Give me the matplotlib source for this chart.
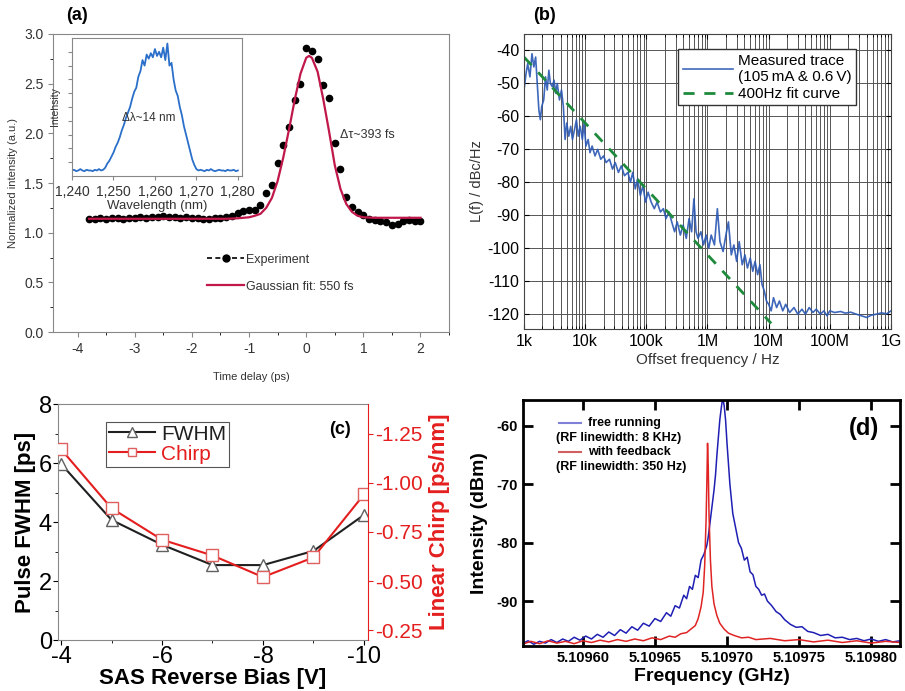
import numpy as np
import matplotlib
matplotlib.use('Agg')
import matplotlib.pyplot as plt
from matplotlib.ticker import MultipleLocator, FormatStrFormatter, NullFormatter
from matplotlib.lines import Line2D

plt.rcParams['font.family'] = ['Liberation Sans', 'DejaVu Sans']
plt.rcParams['axes.unicode_minus'] = False

# ---------------- data ----------------
# (a) autocorrelation
a_delay = np.round(np.arange(-3.8, 2.01, 0.1), 2)
a_exp = [1.14, 1.14, 1.15, 1.14, 1.15, 1.15, 1.14, 1.15, 1.15, 1.16, 1.15, 1.16, 1.16,
         1.17, 1.16, 1.16, 1.15, 1.16, 1.15, 1.15, 1.14, 1.14, 1.15, 1.15, 1.16, 1.17,
         1.20, 1.22, 1.23, 1.23, 1.28, 1.40, 1.48, 1.70, 1.88, 2.06, 2.34, 2.50, 2.86,
         2.83, 2.75, 2.49, 2.36, 1.90, 1.64, 1.36, 1.26, 1.21, 1.18, 1.14, 1.13, 1.12,
         1.11, 1.08, 1.09, 1.12, 1.13, 1.12, 1.12]
fit_delay = [-3.8, -1.4, -1.2, -1.0, -0.9, -0.8, -0.7, -0.6, -0.5, -0.4, -0.3, -0.2, -0.1,
             0.0, 0.05, 0.1, 0.2, 0.3, 0.4, 0.5, 0.6, 0.7, 0.8, 0.9, 1.0, 1.2, 1.4, 2.0]
fit_val = [1.14, 1.14, 1.145, 1.155, 1.17, 1.19, 1.25, 1.35, 1.52, 1.76, 2.04, 2.34, 2.60,
           2.76, 2.78, 2.76, 2.62, 2.34, 2.02, 1.68, 1.44, 1.29, 1.21, 1.17, 1.155, 1.15,
           1.15, 1.15]

# (a) inset spectrum
spec_wl = np.arange(1240, 1280.01, 0.5)
spec_int = [0.04, 0.045, 0.035, 0.04, 0.05, 0.04, 0.035, 0.045, 0.04, 0.04, 0.035, 0.045,
            0.04, 0.05, 0.04, 0.045,
            0.06, 0.09, 0.11, 0.14, 0.17, 0.21, 0.24, 0.28, 0.33, 0.37, 0.42, 0.46, 0.50,
            0.56, 0.61, 0.64, 0.72, 0.76, 0.84, 0.80, 0.88, 0.85, 0.89, 0.86, 0.92, 0.87,
            0.90, 0.86, 0.93, 0.84, 0.96, 0.80, 0.82, 0.70, 0.62, 0.58, 0.50, 0.44, 0.36,
            0.30, 0.24, 0.18, 0.12, 0.08, 0.05,
            0.04, 0.045, 0.04, 0.035, 0.045, 0.04, 0.05, 0.04, 0.035, 0.04, 0.045, 0.04,
            0.04, 0.035, 0.045, 0.04, 0.04, 0.045, 0.035, 0.04]

# (b) phase noise
b_freq = [1.0e3, 1.08e3, 1.15e3, 1.25e3, 1.35e3, 1.45e3, 1.55e3, 1.65e3, 1.75e3, 1.85e3,
          1.95e3, 2.1e3, 2.25e3, 2.4e3, 2.55e3, 2.7e3, 2.9e3, 3.1e3, 3.3e3, 3.5e3, 3.8e3,
          4.1e3, 4.4e3, 4.7e3, 5.0e3, 5.4e3, 5.8e3, 6.2e3, 6.7e3, 7.2e3, 7.7e3, 8.3e3,
          9.0e3, 9.6e3, 1.03e4, 1.12e4, 1.2e4, 1.3e4, 1.45e4, 1.6e4, 1.8e4, 2.0e4, 2.2e4,
          2.5e4, 2.8e4, 3.1e4, 3.5e4, 3.9e4, 4.4e4, 5.0e4, 5.5e4, 6.0e4, 6.6e4, 7.2e4,
          8.0e4, 8.8e4, 9.7e4, 1.07e5, 1.2e5, 1.35e5, 1.5e5, 1.7e5, 1.9e5, 2.1e5, 2.35e5,
          2.6e5, 2.9e5, 3.2e5, 3.6e5, 4.0e5, 4.5e5, 5.0e5, 5.5e5, 6.0e5, 6.5e5, 7.0e5,
          7.8e5, 8.6e5, 9.5e5, 1.05e6, 1.15e6, 1.3e6, 1.45e6, 1.6e6, 1.8e6, 2.0e6, 2.2e6,
          2.45e6, 2.7e6, 3.0e6, 3.3e6, 3.7e6, 4.1e6, 4.5e6, 5.0e6, 5.5e6, 6.0e6, 6.6e6,
          7.2e6, 7.8e6, 8.5e6, 9.2e6, 1.0e7, 1.1e7, 1.2e7, 1.35e7, 1.5e7, 1.7e7, 1.9e7,
          2.2e7, 2.6e7, 3.0e7, 3.5e7, 4.0e7, 4.6e7, 5.3e7, 6.0e7, 7.0e7, 8.0e7, 9.0e7,
          1.0e8, 1.2e8, 1.5e8, 1.8e8, 2.2e8, 2.7e8, 3.3e8, 4.0e8, 4.8e8, 5.8e8, 7.0e8,
          8.5e8, 1.0e9]
b_level = [-52, -47, -44, -48, -41, -45, -42, -50, -58, -61,
           -57, -55, -48, -52, -46, -50, -51, -49, -53, -50, -55,
           -52, -57, -67, -62, -66, -63, -67, -64, -61, -66, -63,
           -67, -62, -69, -67, -71, -69, -72, -70, -73, -72, -74,
           -73, -76, -74, -77, -75, -78, -77, -80, -77, -82, -79,
           -84, -81, -86, -83, -86, -88, -86, -89, -88, -91, -89,
           -92, -95, -92, -96, -93, -97, -91, -95, -85, -95, -97,
           -95, -99, -96, -100, -96, -99, -88, -98, -101, -96, -92,
           -102, -99, -104, -98, -105, -102, -106, -103, -107, -104, -108,
           -105, -111, -113, -116, -117, -119, -115, -118, -116, -119, -117,
           -119.5, -118, -120, -118.5, -120, -118, -119.5, -118.5, -120, -119, -120.5,
           -119, -119.5, -119.2, -119.7, -119.4, -120.0, -120.5, -121, -120.3, -120, -119.6,
           -119.9, -119]
fit_freq = [1e3, 1.1e7]
fit_level = [-42, -122.8]

# (c) pulse width and chirp vs bias
c_bias = [-4, -5, -6, -7, -8, -9, -10]
c_fwhm = [5.97, 4.07, 3.23, 2.54, 2.54, 3.02, 4.24]
c_chirp = [-1.17, -0.87, -0.71, -0.63, -0.52, -0.62, -0.94]

# (d) RF spectra, offsets in kHz from 5.1096 GHz
F0 = 5.1096
blue_df = [-42, -38, -34, -30, -26, -22, -18, -14, -10, -6, -2, 2, 6, 10, 14, 18, 22, 26,
           30, 34, 38, 42, 46, 50, 54, 58, 61, 64, 67, 70, 72, 74, 76, 78, 80, 82, 84, 86,
           87, 88, 89, 90, 91, 92, 93, 94, 95, 96, 97, 98, 99, 100, 101, 102, 103, 104,
           106, 108, 110, 112, 114, 116, 118, 120, 122, 124, 126, 128, 131, 134, 137, 140,
           144, 148, 152, 156, 160, 165, 170, 175, 180, 185, 190, 195, 200, 205, 210, 215,
           220]
blue_db = [-97.3, -96.8, -97.4, -96.9, -97.2, -96.6, -97.1, -96.5, -96.9, -96.2, -96.7,
           -96.0, -96.5, -95.7, -96.2, -95.3, -95.9, -94.9, -95.5, -94.4, -95.0, -93.8,
           -94.3, -93.0, -93.5, -92.0, -92.6, -90.8, -91.2, -89.0, -89.6, -87.5, -88.0,
           -85.6, -86.0, -83.0, -82.0, -80.5, -79.0, -77.0, -75.0, -73.0, -71.0, -68.5,
           -65.0, -62.0, -59.0, -57.0, -55.2, -56.5, -59.0, -63.0, -66.5, -70.0, -72.5,
           -75.0, -77.5, -80.0, -81.0, -83.0, -82.5, -85.0, -85.5, -87.5, -88.0, -89.0,
           -88.8, -90.0, -90.8, -91.8, -92.3, -93.2, -94.0, -94.5, -94.4, -95.2, -95.4,
           -95.9, -95.7, -96.3, -96.2, -96.6, -96.4, -96.8, -96.5, -96.9, -96.6, -97.0,
           -96.8]
red_df = [-42, -36, -30, -24, -18, -12, -6, 0, 6, 12, 18, 24, 30, 36, 42, 48, 54, 60, 64,
          68, 72, 75, 78, 80, 82, 83.5, 84.5, 85.5, 86, 86.5, 87, 87.5, 88.5, 89.5, 91, 93,
          95, 98, 101, 105, 110, 115, 120, 130, 140, 150, 160, 170, 180, 190, 200, 210, 220]
red_db = [-97.4, -96.9, -97.3, -96.8, -97.2, -96.9, -97.3, -96.8, -97.1, -96.7, -97.0,
          -96.6, -96.9, -96.5, -96.8, -96.3, -96.6, -96.0, -96.2, -95.6, -95.4, -94.8,
          -94.2, -93.0, -91.0, -88.5, -84.0, -76.0, -70.0, -63.0, -67.0, -75.0, -83.0,
          -87.5, -90.5, -92.5, -93.8, -94.8, -95.5, -95.9, -96.3, -96.2, -96.6, -96.4,
          -96.8, -96.6, -97.0, -96.7, -97.1, -96.8, -97.2, -96.9, -97.1]


def main():
    fig = plt.figure(figsize=(9.05, 6.91), dpi=100)

    # ---------------- (a) ----------------
    narrow = ['Liberation Sans Narrow', 'Liberation Sans', 'DejaVu Sans']
    gcol = '#333333'
    ax = fig.add_axes([0.0586, 0.5195, 0.4376, 0.4313])
    ax.plot(a_delay, a_exp, 'o', color='black', ms=4.5, zorder=3)
    ax.plot(fit_delay, fit_val, color='#c0184a', lw=1.6, zorder=4)
    ax.set_xlim(-4.43, 2.5)
    ax.set_ylim(0, 3.0)
    ax.xaxis.set_major_locator(MultipleLocator(1))
    ax.xaxis.set_minor_locator(MultipleLocator(0.5))
    ax.yaxis.set_major_locator(MultipleLocator(0.5))
    ax.yaxis.set_minor_locator(MultipleLocator(0.25))
    ax.yaxis.set_major_formatter(FormatStrFormatter('%.1f'))
    for s in ax.spines.values():
        s.set_color('#888888')
    ax.tick_params(colors='#888888', labelcolor=gcol, labelsize=10)
    for lab in ax.get_xticklabels() + ax.get_yticklabels():
        lab.set_family(narrow)
    ax.set_xlabel('Time delay (ps)', fontsize=8, color=gcol, family=narrow, labelpad=12)
    ax.set_ylabel('Normalized intensity (a.u.)', fontsize=8, color=gcol, family=narrow)
    ax.text(0.725, 0.65, '\u0394\u03c4~393 fs', transform=ax.transAxes, fontsize=9,
            color=gcol, family=narrow)
    h1 = Line2D([], [], color='black', ls='--', marker='o', ms=5, lw=1.2, dashes=(3, 2))
    h2 = Line2D([], [], color='#c0184a', lw=1.6)
    leg = ax.legend([h1, h2], ['Experiment', 'Gaussian fit: 550 fs'], loc='upper left',
                    bbox_to_anchor=(0.36, 0.30), frameon=False,
                    handlelength=3.0, handletextpad=0.1, labelspacing=1.2,
                    prop={'family': narrow, 'size': 9})
    for t in leg.get_texts():
        t.set_color(gcol)
    fig.text(0.085, 0.977, '(a)', fontsize=13, fontweight='bold', ha='center', va='center')

    # inset
    ai = fig.add_axes([0.0796, 0.7453, 0.1878, 0.1997])
    ai.plot(spec_wl, spec_int, color='#2a6fc9', lw=1.3)
    ai.set_xlim(1240, 1281)
    ai.set_ylim(0, 1.0)
    ai.set_xticks([1240, 1250, 1260, 1270, 1280])
    ai.set_xticklabels(['1,240', '1,250', '1,260', '1,270', '1,280'])
    ai.set_yticks(np.arange(0.1, 0.95, 0.1))
    ai.yaxis.set_major_formatter(NullFormatter())
    for s in ai.spines.values():
        s.set_color('#888888')
    ai.tick_params(colors='#888888', labelcolor=gcol, labelsize=10, length=3)
    for lab in ai.get_xticklabels():
        lab.set_family(narrow)
    ai.set_xlabel('Wavelength (nm)', fontsize=9.5, color=gcol, family=narrow, labelpad=1)
    ai.set_ylabel('Intensity', fontsize=7.5, color=gcol, family=narrow, labelpad=2)
    ai.text(1258.5, 0.42, '\u0394\u03bb~14 nm', fontsize=8.5, color=gcol, family=narrow,
            ha='center', va='center')

    # ---------------- (b) ----------------
    bx = fig.add_axes([0.579, 0.5239, 0.4055, 0.4269])
    bx.semilogx(b_freq, b_level, color='#2a58b4', lw=1.2, alpha=0.9,
                label='Measured trace\n(105\u2009mA & 0.6\u2009V)')
    bx.semilogx(fit_freq, fit_level, color='#1e8a3c', lw=2, ls='--', dashes=(4, 3.5),
                label='400Hz fit curve')
    bx.set_xlim(1e3, 1e9)
    bx.set_ylim(-124.5, -35)
    bx.set_yticks(np.arange(-120, -39, 10))
    bx.set_xticks([1e3, 1e4, 1e5, 1e6, 1e7, 1e8, 1e9])
    bx.set_xticklabels(['1k', '10k', '100k', '1M', '10M', '100M', '1G'])
    bx.grid(True, which='major', color='#555555', lw=0.7)
    bx.grid(True, which='minor', axis='x', color='#555555', lw=0.7)
    bx.tick_params(which='both', direction='in', labelsize=11.5, top=True, right=True)
    for s in bx.spines.values():
        s.set_color('#444444')
    bx.set_xlabel('Offset frequency / Hz', fontsize=11, color='#333333', labelpad=3)
    bx.set_ylabel('L(f) / dBc/Hz', fontsize=10.5, color='#333333', labelpad=2)
    lb = bx.legend(loc='upper right', bbox_to_anchor=(0.925, 0.975), fontsize=11,
                   fancybox=False, framealpha=1, edgecolor='#333333', borderpad=0.3,
                   handlelength=3.3, handletextpad=0.3, labelspacing=0.2)
    lb.get_frame().set_linewidth(1.0)
    fig.text(0.602, 0.977, '(b)', fontsize=13, fontweight='bold', ha='center', va='center')

    # ---------------- (c) ----------------
    cx = fig.add_axes([0.0641, 0.0738, 0.3425, 0.3415])
    l1, = cx.plot(c_bias, c_fwhm, color='#202020', lw=1.5, marker='^', ms=9,
                  mfc='white', mec='#606060', mew=1.0)
    cx.set_xlim(-3.94, -10.08)
    cx.set_ylim(0, 8)
    cx.set_xticks([-4, -6, -8, -10])
    cx.xaxis.set_minor_locator(MultipleLocator(1))
    cx.yaxis.set_major_locator(MultipleLocator(2))
    cx.yaxis.set_minor_locator(MultipleLocator(1))
    cx.tick_params(labelsize=17, pad=1)
    cx.tick_params(which='minor', length=2.5)
    for s in cx.spines.values():
        s.set_color('#888888')
    cx.spines['right'].set_visible(False)
    cx.set_xlabel('SAS Reverse Bias [V]', fontsize=16, fontweight='bold', labelpad=0)
    cx.set_ylabel('Pulse FWHM [ps]', fontsize=16, fontweight='bold', labelpad=2)
    cr = cx.twinx()
    l2, = cr.plot(c_bias, c_chirp, color='#e41e1e', lw=1.5, marker='s', ms=8,
                  mfc='white', mec='#e06060', mew=1.0)
    cr.set_ylim(-0.20, -1.40)
    cr.set_yticks([-1.25, -1.0, -0.75, -0.5, -0.25])
    cr.yaxis.set_major_formatter(FormatStrFormatter('%.2f'))
    cr.tick_params(axis='y', colors='#e41e1e', labelsize=15, pad=2)
    for k in ['left', 'top', 'bottom']:
        cr.spines[k].set_visible(False)
    cr.spines['right'].set_color('#e41e1e')
    cr.set_ylabel('Linear Chirp [ps/nm]', fontsize=16, fontweight='bold', color='#e41e1e',
                  labelpad=4)
    lc = cx.legend([l1, l2], ['FWHM', 'Chirp'], loc='upper left', bbox_to_anchor=(0.12, 0.97),
                   fontsize=15, labelcolor=['#202020', '#e41e1e'], fancybox=False,
                   edgecolor='#555555', framealpha=1, borderpad=0.15, handlelength=2.2,
                   handletextpad=0.3, labelspacing=0.05, markerscale=0.8)
    lc.get_frame().set_linewidth(0.8)
    cx.text(0.91, 0.89, '(c)', transform=cx.transAxes, fontsize=13, fontweight='bold',
            ha='center', va='center')

    # ---------------- (d) ----------------
    dx = fig.add_axes([0.5779, 0.0651, 0.4166, 0.356])
    blue_f = F0 + np.array(blue_df) * 1e-6
    red_f = F0 + np.array(red_df) * 1e-6
    dx.plot(blue_f, blue_db, color='#1f1fb4', lw=1.1)
    dx.plot(red_f, red_db, color='#e02424', lw=1.1)
    dx.set_xlim(F0 - 41.5e-6, F0 + 220e-6)
    dx.set_ylim(-97.7, -55.6)
    dx.set_xticks([5.10960, 5.10965, 5.10970, 5.10975, 5.10980])
    dx.xaxis.set_major_formatter(FormatStrFormatter('%.5f'))
    dx.set_yticks([-60, -70, -80, -90])
    dx.tick_params(direction='in', width=2, length=7, top=True, right=True, labelsize=10.5)
    for lab in dx.get_xticklabels() + dx.get_yticklabels():
        lab.set_fontweight('bold')
    for s in dx.spines.values():
        s.set_linewidth(2)
    dx.set_xlabel('Frequency (GHz)', fontsize=14, fontweight='bold', labelpad=2)
    dx.set_ylabel('Intensity (dBm)', fontsize=14, fontweight='bold', labelpad=6)
    dx.plot([0.095, 0.153], [0.906, 0.906], transform=dx.transAxes, color='#8080d8', lw=1.5)
    dx.plot([0.095, 0.153], [0.789, 0.789], transform=dx.transAxes, color='#d06060', lw=1.5)
    kw = dict(transform=dx.transAxes, fontsize=9, fontweight='bold', va='center')
    dx.text(0.172, 0.906, 'free running', **kw)
    dx.text(0.088, 0.845, '(RF linewidth: 8 KHz)', **kw)
    dx.text(0.172, 0.789, 'with feedback', **kw)
    dx.text(0.088, 0.728, '(RF linewidth: 350 Hz)', **kw)
    dx.text(0.905, 0.885, '(d)', transform=dx.transAxes, fontsize=17, fontweight='bold',
            ha='center', va='center')

    fig.savefig('out.png', dpi=100)


if __name__ == '__main__':
    main()
